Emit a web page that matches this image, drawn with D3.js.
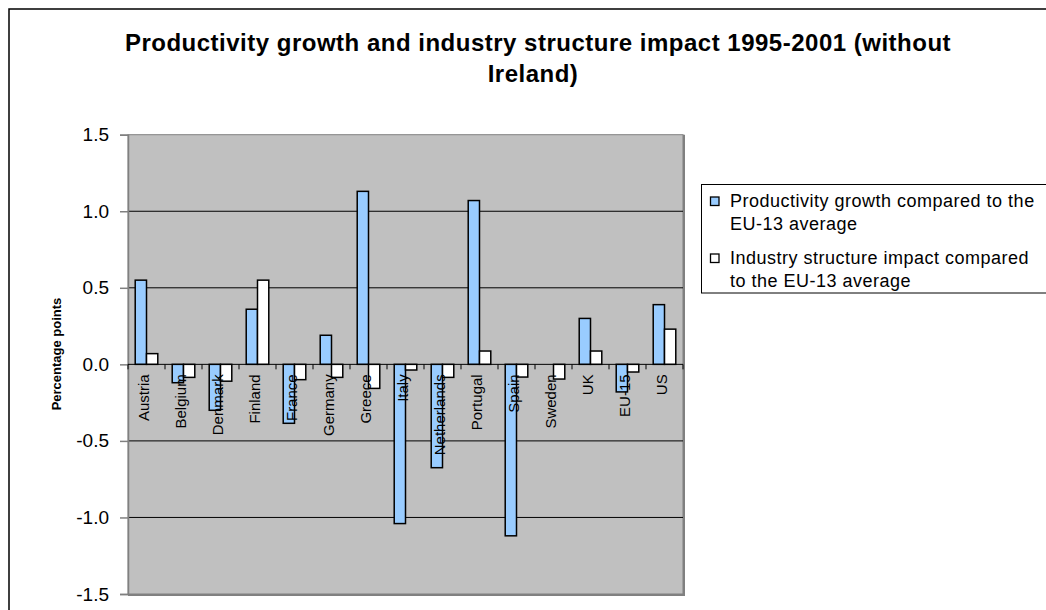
<!DOCTYPE html>
<html>
<head>
<meta charset="utf-8">
<script src="https://cdn.jsdelivr.net/npm/d3@7"></script>
<style>
  body { margin: 0; background: #fff; }
  svg { display: block; font-family: "Liberation Sans", Arial, sans-serif; }
</style>
</head>
<body>
<svg id="chart" width="1046" height="610"></svg>
<script>
// data
const countries = ["Austria", "Belgium", "Denmark", "Finland", "France", "Germany", "Greece", "Italy",
  "Netherlands", "Portugal", "Spain", "Sweden", "UK", "EU-15", "US"];
const productivity = [0.55, -0.12, -0.30, 0.36, -0.385, 0.19, 1.13, -1.04, -0.675, 1.07, -1.12, 0.0, 0.30, -0.18, 0.39];
const structure = [0.07, -0.085, -0.11, 0.55, -0.10, -0.085, -0.157, -0.037, -0.085, 0.087, -0.083, -0.096, 0.087, -0.05, 0.23];
const yTicks = [-1.5, -1.0, -0.5, 0.0, 0.5, 1.0, 1.5];
const seriesNames = [
  ["Productivity growth compared to the", "EU-13 average"],
  ["Industry structure impact compared", "to the EU-13 average"]
];
const seriesColors = ["#99CCFF", "#FFFFFF"];

const svg = d3.select("#chart");

// outer chart frame (runs off the right and bottom edge)
svg.append("rect")
  .attr("x", 9).attr("y", 9)
  .attr("width", 1060).attr("height", 620)
  .attr("fill", "#fff")
  .attr("stroke", "#000")
  .attr("stroke-width", 1.5);

const plot = { left: 128, right: 683, top: 134.7, bottom: 594 };

const x0 = d3.scaleBand()
  .domain(countries)
  .range([plot.left, plot.right])
  .paddingInner(0.39)
  .paddingOuter(0.195);

const x1 = d3.scaleBand()
  .domain([0, 1])
  .range([0, x0.bandwidth()]);

const y = d3.scaleLinear()
  .domain([-1.5, 1.5])
  .range([plot.bottom, plot.top]);

// plot area
svg.append("rect")
  .attr("x", plot.left).attr("y", plot.top)
  .attr("width", plot.right - plot.left).attr("height", plot.bottom - plot.top)
  .attr("fill", "#C0C0C0")
  .attr("stroke", "#808080")
  .attr("stroke-width", 1);
svg.append("path")
  .attr("d", `M${plot.right + 1},${plot.top} V${plot.bottom + 1} H${plot.left}`)
  .attr("fill", "none")
  .attr("stroke", "#808080")
  .attr("stroke-width", 2);

// gridlines
svg.append("g")
  .selectAll("line")
  .data(yTicks.filter(t => Math.abs(t) < 1.5 && t !== 0))
  .enter().append("line")
  .attr("x1", plot.left).attr("x2", plot.right)
  .attr("y1", d => y(d)).attr("y2", d => y(d))
  .attr("stroke", "#000")
  .attr("stroke-width", 1);

// y axis
const yAxis = svg.append("g")
  .attr("transform", `translate(${plot.left},0)`)
  .call(d3.axisLeft(y).tickValues(yTicks).tickFormat(d => d.toFixed(1)).tickSize(8).tickPadding(11));
yAxis.select(".domain").attr("stroke", "#808080").attr("stroke-width", 1.5);
yAxis.selectAll(".tick line").attr("stroke", "#808080").attr("stroke-width", 1.5);
yAxis.selectAll(".tick text")
  .attr("font-size", "19px")
  .attr("font-family", "Liberation Sans, Arial, sans-serif")
  .attr("fill", "#000");

svg.append("text")
  .attr("transform", `translate(61,354) rotate(-90)`)
  .attr("text-anchor", "middle")
  .attr("font-size", "13px")
  .attr("font-weight", "bold")
  .text("Percentage points");

// bars
const groups = svg.append("g")
  .selectAll("g")
  .data(countries)
  .enter().append("g")
  .attr("transform", d => `translate(${x0(d)},0)`);

groups.selectAll("rect")
  .data((d, i) => [productivity[i], structure[i]])
  .enter().append("rect")
  .attr("x", (d, j) => x1(j))
  .attr("width", x1.bandwidth())
  .attr("y", d => y(Math.max(0, d)))
  .attr("height", d => Math.abs(y(d) - y(0)))
  .attr("fill", (d, j) => seriesColors[j])
  .attr("stroke", "#000")
  .attr("stroke-width", 1.5);

// category axis at zero
svg.append("line")
  .attr("x1", plot.left).attr("x2", plot.right)
  .attr("y1", y(0)).attr("y2", y(0))
  .attr("stroke", "#000")
  .attr("stroke-width", 1);

const step = x0.step();
svg.append("g")
  .selectAll("line")
  .data(d3.range(countries.length + 1))
  .enter().append("line")
  .attr("x1", i => plot.left + i * step).attr("x2", i => plot.left + i * step)
  .attr("y1", y(0)).attr("y2", y(0) + 5)
  .attr("stroke", "#000");

svg.append("g")
  .selectAll("text")
  .data(countries)
  .enter().append("text")
  .attr("transform", d => `translate(${x0(d) + x0.bandwidth() / 2 - 2.5},${y(0) + 10}) rotate(-90)`)
  .attr("text-anchor", "end")
  .attr("dy", "0.35em")
  .attr("font-size", "15px")
  .text(d => d);

// title
const title = svg.append("text")
  .attr("text-anchor", "middle")
  .attr("font-size", "24px")
  .attr("font-weight", "bold")
  .attr("letter-spacing", "0.5px");
title.append("tspan").attr("x", 538).attr("y", 51)
  .text("Productivity growth and industry structure impact 1995-2001 (without");
title.append("tspan").attr("x", 533).attr("y", 82)
  .text("Ireland)");

// legend
svg.append("rect")
  .attr("x", 701.5).attr("y", 184.5)
  .attr("width", 360).attr("height", 108.5)
  .attr("fill", "#fff")
  .attr("stroke", "#000")
  .attr("stroke-width", 1);

const legend = svg.append("g")
  .selectAll("g")
  .data(seriesNames)
  .enter().append("g")
  .attr("transform", (d, i) => `translate(710,${207 + i * 57})`);

legend.append("rect")
  .attr("x", 0.5).attr("y", -10)
  .attr("width", 8.5).attr("height", 8.5)
  .attr("fill", (d, i) => seriesColors[i])
  .attr("stroke", "#000")
  .attr("stroke-width", 1.3);

legend.append("text")
  .attr("font-size", "18px")
  .attr("letter-spacing", "0.5px")
  .selectAll("tspan")
  .data(d => d)
  .enter().append("tspan")
  .attr("x", 20)
  .attr("y", (d, k) => k * 23)
  .text(d => d);
</script>
</body>
</html>
